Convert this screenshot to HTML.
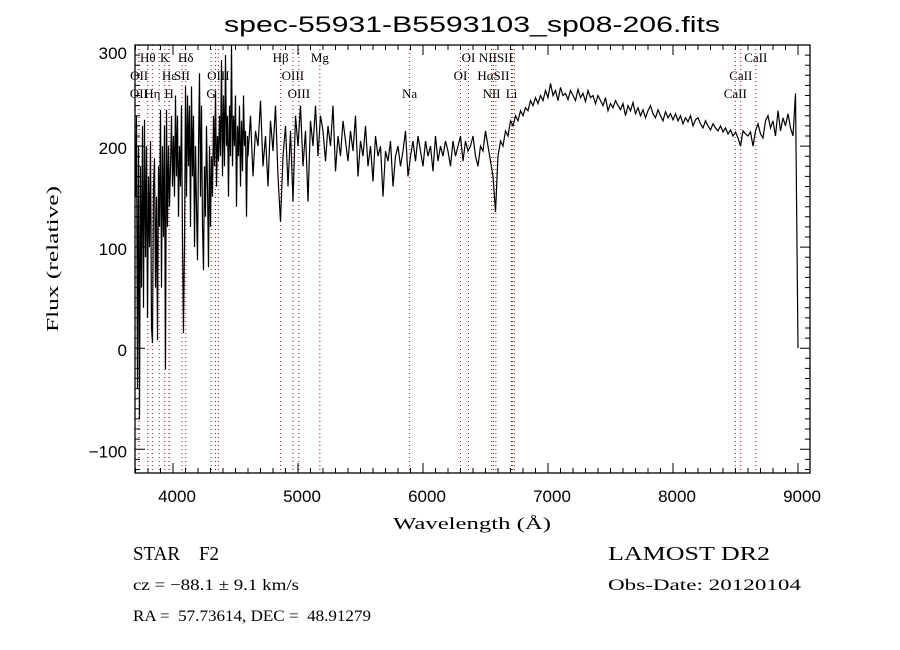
<!DOCTYPE html>
<html><head><meta charset="utf-8"><style>
html,body{margin:0;padding:0;background:#fff;}
svg{display:block;}
text{fill:#000;white-space:pre;}
.t{font-family:"Liberation Serif",serif;}
.s{font-family:"Liberation Sans",sans-serif;}
</style></head><body>
<svg id="chart" width="900" height="650" viewBox="0 0 900 650" xmlns="http://www.w3.org/2000/svg">
<rect x="0" y="0" width="900" height="650" fill="#fff"/>
<text class="s" x="472" y="32" font-size="22" text-anchor="middle" textLength="496" lengthAdjust="spacingAndGlyphs">spec-55931-B5593103_sp08-206.fits</text>
<g id="marks"></g>
<text class="t" x="472" y="529" font-size="17" text-anchor="middle" textLength="158" lengthAdjust="spacingAndGlyphs">Wavelength (Å)</text>
<text class="t" x="0" y="0" font-size="17" text-anchor="middle" transform="translate(58,259) rotate(-90)" textLength="146" lengthAdjust="spacingAndGlyphs">Flux (relative)</text>
<text class="t" x="133" y="560" font-size="20" textLength="86" lengthAdjust="spacingAndGlyphs">STAR    F2</text>
<text class="t" x="133" y="590" font-size="16" textLength="166" lengthAdjust="spacingAndGlyphs">cz = −88.1 ± 9.1 km/s</text>
<text class="t" x="133" y="621" font-size="16" textLength="238" lengthAdjust="spacingAndGlyphs">RA =  57.73614, DEC =  48.91279</text>
<text class="t" x="608" y="560" font-size="20" textLength="162" lengthAdjust="spacingAndGlyphs">LAMOST DR2</text>
<text class="t" x="608" y="590" font-size="16" textLength="193" lengthAdjust="spacingAndGlyphs">Obs-Date: 20120104</text>
</svg>
<script>
const blueStart = 3700, blueStep = 8;
const blueFlux = [150,230,-40,200,-70,180,60,220,40,226,90,200,30,170,100,205,20,5,160,188,60,150,8,180,120,236,60,200,110,220,-21,236,120,200,140,180,230,160,210,150,250,170,230,130,200,160,240,110,15,100,259,150,250,180,240,120,259,170,230,100,200,140,87,200,272,150,240,120,77,180,130,220,160,80,200,120,190,150,230,180,255,160,210,185,230,190,285,170,250,180,290,200,230,150,240,190,300,180,230,200,250,140,220,190,240,160,225,175,250,200,215,130,210];
const redStart = 4600, redStep = 20;
const redFlux = [190,230,170,215,200,245,180,210,160,225,
195,240,170,125,190,220,160,215,145,230,
200,240,180,215,145,225,200,240,190,230,
215,185,220,200,240,175,210,190,225,205,
185,215,195,230,170,205,190,220,180,200,
165,210,190,200,150,195,185,205,160,190,
200,180,195,215,170,190,205,185,210,195,
180,205,190,200,175,210,185,200,190,205,
195,180,205,190,200,210,185,205,195,200,
210,190,180,200,195,215,200,185,170,135,
190,205,200,215,210,225,220,230,225,235,
230,238,235,245,240,248,242,250,245,255,
248,262,250,255,245,258,250,252,246,255,
250,245,256,248,252,244,255,248,250,242,
250,245,240,248,235,242,238,245,240,236,
242,230,240,235,243,232,238,230,236,228,
235,240,232,228,236,230,225,234,228,232,
226,232,225,230,222,228,224,230,220,226,
228,222,218,225,220,216,222,218,215,220,
214,218,212,216,210,214,208,200,215,212,
210,214,200,215,222,212,208,225,230,218,
225,210,235,215,228,220,232,218,210,252,
0];
const xTicks = [4000,5000,6000,7000,8000,9000];
const yTicks = [-100,0,100,200,300];
const lineWaves = [3727,3729,3798,3835,3889,3934,3969,3970,4072,4102,4305,4340,4363,4861,4959,5007,5175,5893,6300,6364,6548,6563,6583,6708,6717,6731,8498,8542,8662];
const labelNames = ["Hθ","K","Hδ","Hβ","Mg","OI","NIISII","CaII","OII","Hε","SII","OIII","OIII","OI","HαSII","CaII","OII","Hη","H","G","OIII","Na","NII","Li","CaII"];
const labelWaves = [3798,3934,4102,4861,5175,6364,6583,8662,3729,3970,4072,4363,4959,6300,6563,8542,3727,3835,3969,4305,5007,5893,6548,6708,8498];
const labelRows = [0,0,0,0,0,0,0,0,1,1,1,1,1,1,1,1,2,2,2,2,2,2,2,2,2];

const L=135,R=810,T=45,B=473;
const xMin=3696,xMax=9096,yMin=-123.5,yMax=300;
function X(w){return L+(w-xMin)/(xMax-xMin)*(R-L);}
function Y(f){return B-(f-yMin)/(yMax-yMin)*(B-T);}
const NS="http://www.w3.org/2000/svg";
const g=document.getElementById('marks');
function el(tag,attrs){const e=document.createElementNS(NS,tag);for(const k in attrs)e.setAttribute(k,attrs[k]);g.appendChild(e);return e;}

lineWaves.forEach(w=>{
  const ln=el('line',{x1:X(w),x2:X(w),y1:T,y2:B,stroke:'#8b1a1a','stroke-width':1,'stroke-dasharray':'1,3'});
  
  
});
const rowY=[62,80,98];
labelNames.forEach((n,i)=>{
  const t=el('text',{x:X(labelWaves[i]),y:rowY[labelRows[i]],'font-size':13,'text-anchor':'middle','class':'t'});
  t.textContent=n;
  
  
});

let pts=[];
blueFlux.forEach((f,i)=>{const w=blueStart+i*blueStep; if(w<redStart) pts.push(X(w).toFixed(1)+','+Y(f).toFixed(1));});
redFlux.forEach((f,i)=>{pts.push(X(redStart+i*redStep).toFixed(1)+','+Y(f).toFixed(1));});
const sp=el('polyline',{points:pts.join(' '),fill:'none',stroke:'#000','stroke-width':1.2,'stroke-linejoin':'miter'});



const fr=el('rect',{x:L,y:T,width:R-L,height:B-T,fill:'none',stroke:'#000','stroke-width':1.3});



let d='';
for(let w=3700;w<=9000;w+=100){
  const major=(w%1000===0), len=major?10:5, x=X(w).toFixed(1);
  d+=`M${x},${B}V${B-len}M${x},${T}V${T+len}`;
}
for(let f=-120;f<=300;f+=10){
  const major=(f%100===0), len=major?10:5, y=Y(f).toFixed(1);
  d+=`M${L},${y}H${L+len}M${R},${y}H${R-len}`;
}
const tk=el('path',{d:d,stroke:'#000','stroke-width':1,fill:'none'});



xTicks.forEach(w=>{
  const t=el('text',{x:X(w)+4,y:502,'font-size':17,'text-anchor':'middle','class':'s'});
  t.textContent=w;
  
  
});
yTicks.forEach(f=>{
  const yy=f===300?Y(f)+14:Y(f)+8;
  const t=el('text',{x:127,y:yy,'font-size':17,'text-anchor':'end','class':'s'});
  t.textContent=f<0?'−'+Math.abs(f):f;
  
  
});
</script>
</body></html>
